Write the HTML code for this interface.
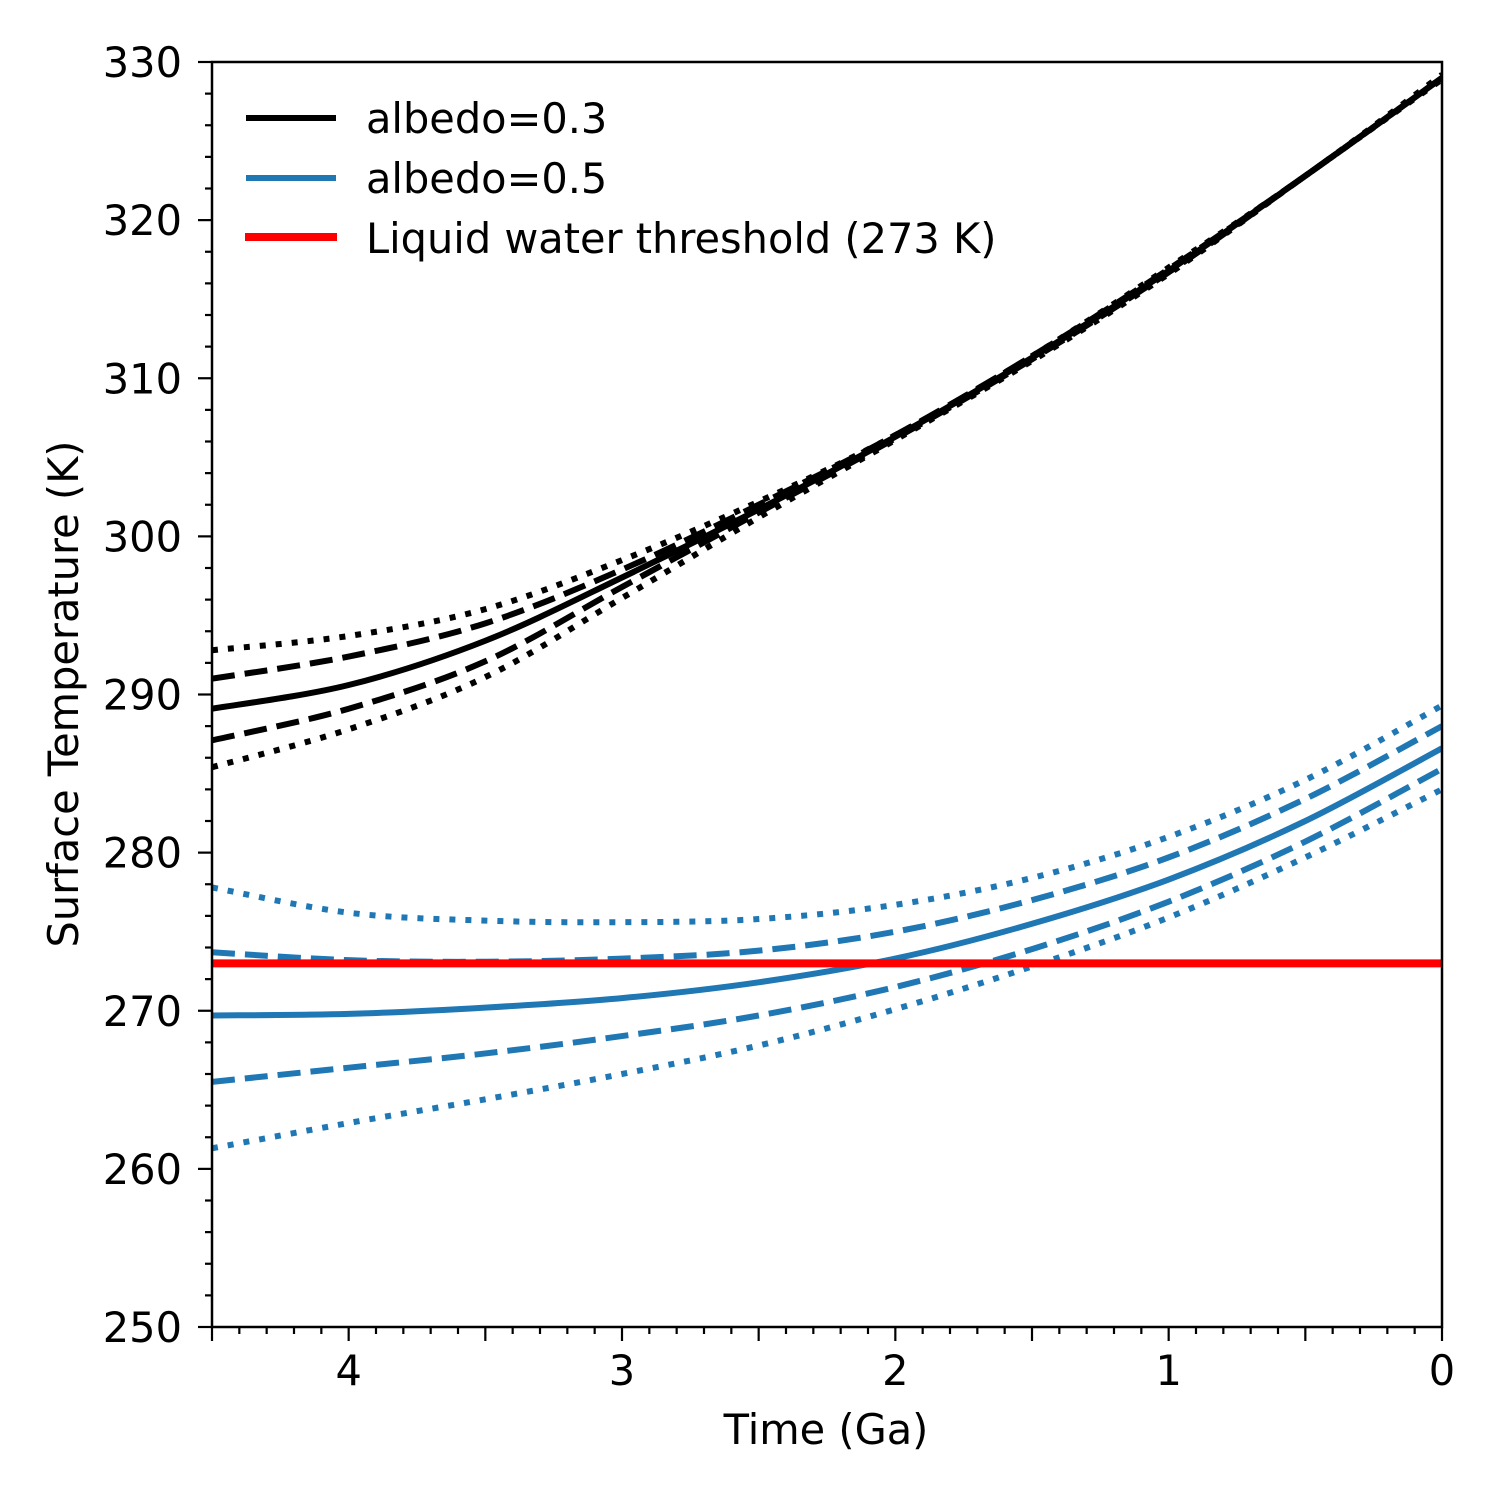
<!DOCTYPE html>
<html><head><meta charset="utf-8"><style>
body{margin:0;background:#fff}
svg{display:block;font-family:"DejaVu Sans","Liberation Sans",sans-serif}
</style></head><body>
<svg id="chart" width="1500" height="1500" viewBox="0 0 1500 1500">
<rect width="1500" height="1500" fill="#fff"/>
<g id="plot"></g>
<g id="axes"></g>
<g id="legend">
 <line x1="246" y1="118" x2="336" y2="118" stroke="#000" stroke-width="6"/>
 <text x="366" y="133" font-size="41.5">albedo=0.3</text>
 <line x1="246" y1="178" x2="336" y2="178" stroke="#1f77b4" stroke-width="6"/>
 <text x="366" y="193" font-size="41.5">albedo=0.5</text>
 <line x1="245" y1="237" x2="337" y2="237" stroke="#ff0000" stroke-width="8"/>
 <text x="366" y="253" font-size="41.5">Liquid water threshold (273 K)</text>
</g>
<text x="826" y="1444" font-size="41.5" text-anchor="middle">Time (Ga)</text>
<text transform="translate(78,694) rotate(-90)" font-size="41.5" text-anchor="middle">Surface Temperature (K)</text>
</svg>
<script>
const times=[4.5,4,3.5,3,2.5,2,1.5,1,0.5,0];
const blackSolid=[289.1,290.6,293.4,297.4,301.7,306.3,311.3,316.8,322.8,329];
const blackDashHi=[291,292.4,294.5,297.9,302,306.4,311.4,316.9,322.8,329];
const blackDashLo=[287.1,289.1,292.1,296.8,301.5,306.2,311.2,316.7,322.8,329];
const blackDotHi=[292.8,293.7,295.4,298.5,302.2,306.4,311.4,317,322.8,329.2];
const blackDotLo=[285.4,287.8,291.1,296.1,301.2,306.1,311.1,316.6,322.8,328.9];
const blueSolid=[269.7,269.8,270.2,270.8,271.8,273.3,275.5,278.3,282,286.6];
const blueDashHi=[273.7,273.2,273.1,273.3,273.8,275,277,279.7,283.4,288];
const blueDashLo=[265.5,266.4,267.3,268.4,269.7,271.5,273.9,276.9,280.7,285.3];
const blueDotHi=[277.8,276.2,275.7,275.6,275.8,276.7,278.4,281,284.6,289.3];
const blueDotLo=[261.3,262.9,264.4,266,267.8,270.1,272.8,275.9,279.7,284];
const threshold=273;
const xTickLabels=[4,3,2,1,0];
const yTickLabels=[250,260,270,280,290,300,310,320,330];

const L=212,R=1442,T=62,B=1327;
const xs=t=>R-(t/4.5)*(R-L);
const ys=v=>B-(v-250)/80*(B-T);
const NS='http://www.w3.org/2000/svg';
const plot=document.getElementById('plot'),axes=document.getElementById('axes');
function mk(tag,attrs,parent){const e=document.createElementNS(NS,tag);for(const k in attrs)e.setAttribute(k,attrs[k]);parent.appendChild(e);return e;}
function pathD(vals){
  const p=times.map((t,i)=>[xs(t),ys(vals[i])]);
  let d='M'+p[0][0]+','+p[0][1];
  for(let i=0;i<p.length-1;i++){
    const p0=p[Math.max(0,i-1)],p1=p[i],p2=p[i+1],p3=p[Math.min(p.length-1,i+2)];
    const c1=[p1[0]+(p2[0]-p0[0])/6,p1[1]+(p2[1]-p0[1])/6];
    const c2=[p2[0]-(p3[0]-p1[0])/6,p2[1]-(p3[1]-p1[1])/6];
    d+=` C${c1[0]},${c1[1]} ${c2[0]},${c2[1]} ${p2[0]},${p2[1]}`;
  }
  return d;
}
const clip=mk('clipPath',{id:'cp'},plot);mk('rect',{x:L,y:T,width:R-L,height:B-T},clip);
const g=mk('g',{'clip-path':'url(#cp)'},plot);
const series=[
 [blackDotHi,'#000','6 10','black-dotted-upper'],
 [blackDotLo,'#000','6 10','black-dotted-lower'],
 [blackDashHi,'#000','23 10','black-dashed-upper'],
 [blackDashLo,'#000','23 10','black-dashed-lower'],
 [blackSolid,'#000','','black-solid'],
 [blueDotHi,'#1f77b4','6 10','blue-dotted-upper'],
 [blueDotLo,'#1f77b4','6 10','blue-dotted-lower'],
 [blueDashHi,'#1f77b4','23 10','blue-dashed-upper'],
 [blueDashLo,'#1f77b4','23 10','blue-dashed-lower'],
 [blueSolid,'#1f77b4','','blue-solid'],
];
series.forEach(s=>{
  const el=mk('path',{d:pathD(s[0]),fill:'none',stroke:s[1],'stroke-width':6},g);
  if(s[2])el.setAttribute('stroke-dasharray',s[2]);
  
  
});
const th=mk('line',{x1:L,x2:R,y1:ys(threshold),y2:ys(threshold),stroke:'#ff0000','stroke-width':8},g);


for(let t=0;t<=45;t++){
  const x=xs(t/10),maj=t%5===0;
  const tk=mk('line',{x1:x,x2:x,y1:B,y2:B+(maj?14:7),stroke:'#000','stroke-width':2.2},axes);
  
  
}
xTickLabels.forEach(v=>{
  const tx=mk('text',{x:xs(v),y:B+58,'font-size':41.5,'text-anchor':'middle'},axes);tx.textContent=v;
  
  
});
for(let v=250;v<=330;v+=2){
  const y=ys(v),maj=v%10===0;
  const tk=mk('line',{x1:L,x2:L-(maj?14:7),y1:y,y2:y,stroke:'#000','stroke-width':2.2},axes);
  
  
}
yTickLabels.forEach(v=>{
  const tx=mk('text',{x:182,y:ys(v)+15,'font-size':41.5,'text-anchor':'end'},axes);tx.textContent=v;
  
  
});
const fr=mk('rect',{x:L,y:T,width:R-L,height:B-T,fill:'none',stroke:'#000','stroke-width':2.5},axes);


</script>
</body></html>
